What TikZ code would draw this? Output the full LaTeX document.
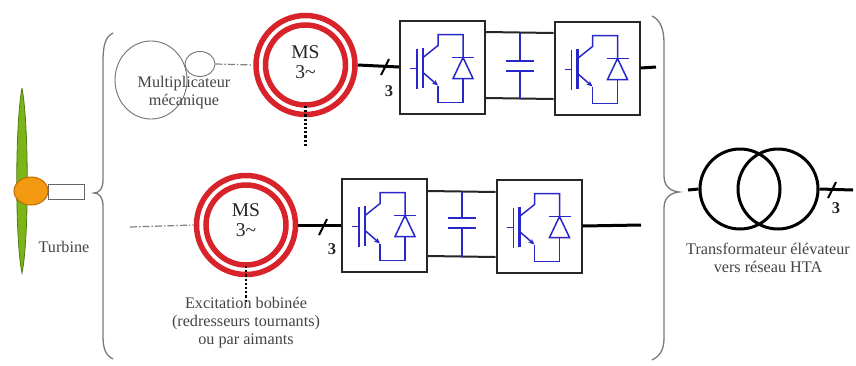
\documentclass[tikz,border=0pt]{standalone}
\usepackage{fontspec}
\setmainfont{Liberation Serif}
\usetikzlibrary{arrows.meta,calc,shapes.geometric}

\definecolor{bladegreen}{HTML}{7CB518}
\definecolor{bladeedge}{HTML}{4E7A12}
\definecolor{hubfill}{HTML}{F39A12}
\definecolor{hubedge}{HTML}{C06A00}
\definecolor{msred}{HTML}{D8232A}
\definecolor{igbtblue}{HTML}{2828C8}
\definecolor{notegray}{HTML}{444444}
\definecolor{bracegray}{HTML}{7A7A7A}

\tikzset{
  wire/.style={line width=3pt, black},
  dclink/.style={line width=2pt, black!85},
  convbox/.style={draw=black!85, line width=2pt, fill=white, minimum width=85pt, minimum height=93pt, inner sep=0pt},
  msring/.style={circle, draw=msred, line width=5.5pt, minimum size=99pt, inner sep=0pt},
  trcoil/.style={circle, draw=black, line width=3pt, minimum size=80pt, inner sep=0pt},
  gearwheel/.style={ellipse, draw=black!55, line width=0.9pt, inner sep=0pt},
  shaftline/.style={draw=black!50, line width=1.2pt, dash pattern=on 7pt off 2pt on 1.5pt off 2pt},
  dotline/.style={draw=black, line width=2.6pt, dash pattern=on 2.2pt off 2pt},
  bracestroke/.style={draw=bracegray, line width=1.3pt},
  note/.style={text=notegray, font=\fontsize{16.2}{18}\selectfont, align=center, inner sep=0pt},
  mstext/.style={text=black!85, font=\fontsize{19.5}{20}\selectfont, align=center, inner sep=0pt},
  phases/.style={text=black!85, font=\bfseries\fontsize{16.5}{17}\selectfont, inner sep=0pt},
  slash/.style={draw=black, line width=2pt},
  % IGBT with antiparallel diode, drawn about the centre of its box
  igbt/.pic={
    \begin{scope}[draw=igbtblue, line width=1.5pt, line cap=butt]
      \draw (-32.5,1.5) -- (-25.5,1.5);
      \draw (-25.5,-18.5) -- (-25.5,21.5);
      \draw[line width=2.4pt] (-19.5,-19.5) -- (-19.5,20.5);
      \draw (-19.5,-9.5) -- (-4.5,-21.5) -- (-4.5,-32.5) -- (20.5,-32.5) -- (20.5,-9.5);
      \draw (9.5,-9.5) -- (31.5,-9.5);
      \draw (20.5,-9.5) -- (10.5,11.5) -- (30.5,11.5) -- cycle;
      \draw (20.5,11.5) -- (20.5,35.5) -- (-4.5,35.5) -- (-4.5,18.5);
      \draw[-{Stealth[length=6pt,width=5pt]}, igbtblue] (-19.5,5.5) -- (-4.5,18.5);
    \end{scope}
  }
}

\begin{document}
\begin{tikzpicture}[x=1pt,y=-1pt]
  \useasboundingbox (0,0) rectangle (856,365);
  \fill[white] (0,0) rectangle (856,365);

  % ---- turbine: blade, hub and shaft
  \path[fill=bladegreen, draw=bladeedge, line width=0.8pt]
    (22,88) .. controls (29,125) and (29,240) .. (22,273)
            .. controls (15,240) and (15,125) .. (22,88);
  \node[draw=black!60, line width=1pt, fill=white, minimum width=36pt, minimum height=15pt, inner sep=0pt] (shaft) at (66,191.5) {};
  \node[ellipse, draw=hubedge, line width=1pt, fill=hubfill, minimum width=34pt, minimum height=28pt, inner sep=0pt] (hub) at (31,191) {};
  \node[note] (turblab) at (64,247) {Turbine};

  % ---- braces
  \draw[bracestroke] (113,33) .. controls (105,37) and (103,46) .. (103,62)
    -- (103,180) .. controls (103,189) and (99,193) .. (94,193)
    .. controls (99,193) and (103,197) .. (103,206)
    -- (103,335) .. controls (103,348) and (105,355) .. (113,359);
  \draw[bracestroke] (652,16) .. controls (660,20) and (664,28) .. (664,44)
    -- (664,176) .. controls (664,186) and (670,191) .. (679,192)
    .. controls (670,193) and (664,198) .. (664,208)
    -- (664,338) .. controls (664,350) and (660,356) .. (652,360);

  % ---- upper chain: gearbox, generator, back-to-back converter
  \node[gearwheel, minimum width=72pt, minimum height=78pt] (gearbig) at (151,80) {};
  \node[gearwheel, minimum width=30pt, minimum height=25pt] (gearsmall) at (200,64) {};
  \node[note] (multlab) at (184,93) {Multiplicateur\\mécanique};

  \node[msring] (ms1) at (305.5,65) {};
  \draw[msred, line width=5.5pt] (ms1.center) circle (40);
  \node[mstext] (ms1lab) at (305.5,62) {MS\\3\textasciitilde};
  \coordinate (exc1) at (305.5,146);

  \node[convbox] (c1) at (442.5,67) {};
  \node[convbox] (c2) at (597,68) {};
  \pic at (c1.center) {igbt};
  \pic at (c2.center) {igbt};
  \coordinate (out1) at (656,67);

  \draw[shaftline] (gearsmall.east) -- (ms1.west);
  \draw[dotline] ([yshift=-41pt]ms1.center) -- (exc1);
  \draw[wire] (ms1.east) -- (c1.west);
  \draw[slash] (381,75) -- (389,59);
  \node[phases] (ph1) at (389,91) {3};

  \draw[dclink] ([yshift=35pt]c1.east) -- ([yshift=35pt]c2.west);
  \draw[dclink] ([yshift=-31pt]c1.east) -- ([yshift=-31pt]c2.west);
  \coordinate (cap1) at ($(c1.east)!0.5!(c2.west)$);
  \begin{scope}[igbtblue, line width=1.6pt]
    \draw ([yshift=35pt]cap1) -- ([yshift=7pt]cap1);
    \draw ([yshift=-3pt]cap1) -- ([yshift=-31pt]cap1);
    \draw[line width=2pt] ([xshift=-14pt,yshift=7pt]cap1) -- ([xshift=14pt,yshift=7pt]cap1);
    \draw[line width=2pt] ([xshift=-14pt,yshift=-3pt]cap1) -- ([xshift=14pt,yshift=-3pt]cap1);
  \end{scope}
  \draw[wire] (c2.east) -- (out1);

  % ---- lower chain: direct-drive generator and converter
  \coordinate (shaftin) at (130,227);
  \node[msring] (ms2) at (246,225) {};
  \draw[msred, line width=5.5pt] (ms2.center) circle (40);
  \node[mstext] (ms2lab) at (246,220) {MS\\3\textasciitilde};
  \coordinate (exc2) at (246,303);

  \node[convbox] (c3) at (384.5,225) {};
  \node[convbox] (c4) at (539,226) {};
  \pic at (c3.center) {igbt};
  \pic at (c4.center) {igbt};
  \coordinate (out2) at (641,225);

  \draw[shaftline] (shaftin) -- (ms2.west);
  \draw[dotline] ([yshift=-41pt]ms2.center) -- (exc2);
  \draw[wire] (ms2.east) -- (c3.west);
  \draw[slash] (319,235) -- (327,219);
  \node[phases] (ph2) at (332,249) {3};
  \node[note, anchor=north] (exclab) at (246,297) {Excitation bobinée\\(redresseurs tournants)\\ou par aimants};

  \draw[dclink] ([yshift=34pt]c3.east) -- ([yshift=34pt]c4.west);
  \draw[dclink] ([yshift=-31pt]c3.east) -- ([yshift=-31pt]c4.west);
  \coordinate (cap2) at ($(c3.east)!0.5!(c4.west)$);
  \begin{scope}[igbtblue, line width=1.6pt]
    \draw ([yshift=34pt]cap2) -- ([yshift=8pt]cap2);
    \draw ([yshift=-2pt]cap2) -- ([yshift=-31pt]cap2);
    \draw[line width=2pt] ([xshift=-14pt,yshift=8pt]cap2) -- ([xshift=14pt,yshift=8pt]cap2);
    \draw[line width=2pt] ([xshift=-14pt,yshift=-2pt]cap2) -- ([xshift=14pt,yshift=-2pt]cap2);
  \end{scope}
  \draw[wire] (c4.east) -- (out2);

  % ---- step-up transformer
  \coordinate (trin) at (688,190);
  \coordinate (trout) at (853,190);
  \node[trcoil] (tr1) at (740,189) {};
  \node[trcoil] (tr2) at (778,189) {};
  \draw[wire] (trin) -- (tr1.west);
  \draw[wire] (tr2.east) -- (trout);
  \draw[slash] (828,198) -- (836,182);
  \node[phases] (ph3) at (836,208) {3};
  \node[note] (trlab) at (768,258) {Transformateur élévateur\\vers réseau HTA};
\end{tikzpicture}
\end{document}
